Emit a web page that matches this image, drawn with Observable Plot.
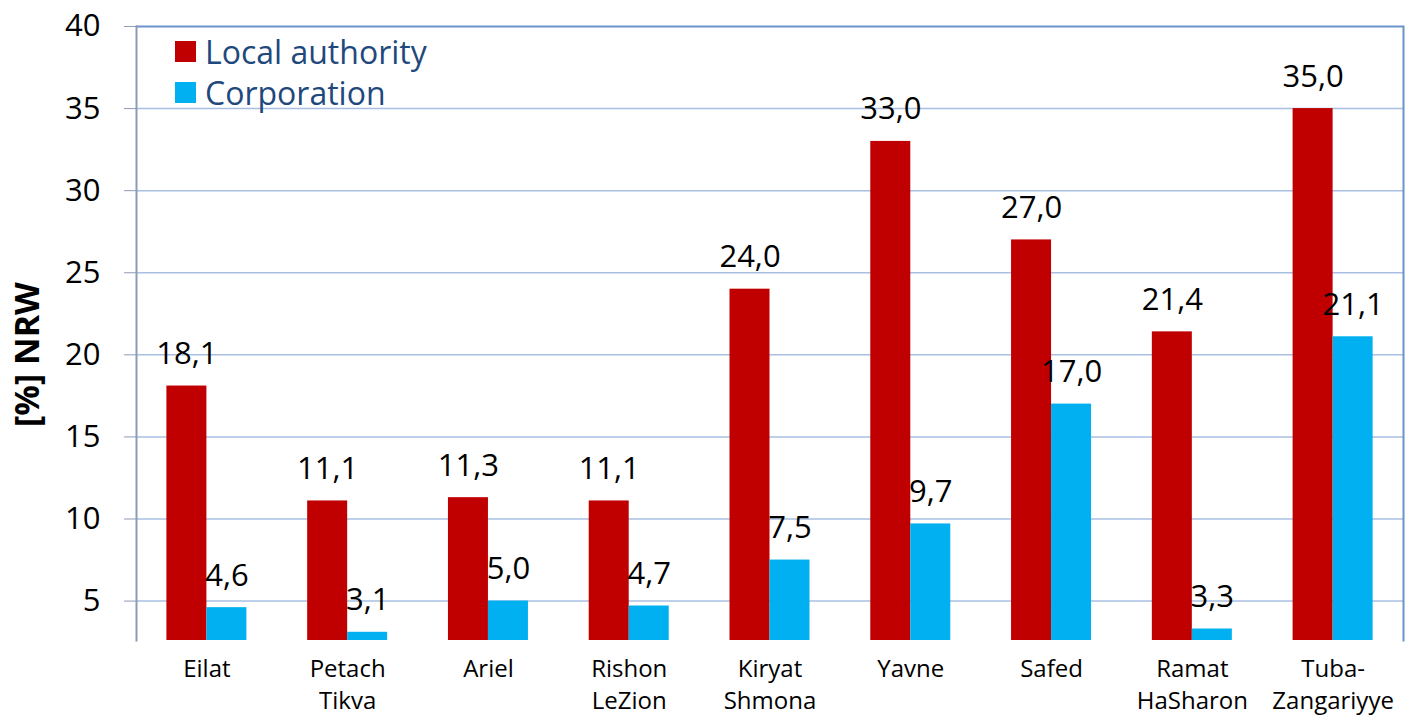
<!DOCTYPE html>
<html>
<head>
<meta charset="utf-8">
<script src="https://cdn.jsdelivr.net/npm/d3@7"></script>
<script src="https://cdn.jsdelivr.net/npm/@observablehq/plot@0.6"></script>
<style>
  html, body { margin: 0; padding: 0; background: #fff; }
  #wrap { position: relative; width: 1424px; height: 715px; font-family: "Open Sans", sans-serif; }
  #legend { position: absolute; left: 175px; top: 31px; color: #1F497D; font-size: 32px; line-height: 41px; }
  #legend .row { display: flex; align-items: center; white-space: nowrap; }
  #legend .sw { width: 21px; height: 21px; margin-right: 9px; }
</style>
</head>
<body>
<div id="wrap">
  <div id="chart"></div>
  <div id="legend"></div>
</div>
<script>
const cities = ["Eilat", "Petach Tikva", "Ariel", "Rishon LeZion", "Kiryat Shmona", "Yavne", "Safed", "Ramat HaSharon", "Tuba-Zangariyye"];
const cityLabels = ["Eilat", "Petach\nTikva", "Ariel", "Rishon\nLeZion", "Kiryat\nShmona", "Yavne", "Safed", "Ramat\nHaSharon", "Tuba-\nZangariyye"];
const seriesNames = ["Local authority", "Corporation"];
const localAuthority = [18.1, 11.1, 11.3, 11.1, 24.0, 33.0, 27.0, 21.4, 35.0];
const corporation = [4.6, 3.1, 5.0, 4.7, 7.5, 9.7, 17.0, 3.3, 21.1];
const yTicks = [5, 10, 15, 20, 25, 30, 35, 40];
const yMin = 2.6;
const yMax = 40;
const colors = ["#C00000", "#00B0F0"];

const local = cities.map((c, i) => ({city: c, series: seriesNames[0], value: localAuthority[i]}));
const corp = cities.map((c, i) => ({city: c, series: seriesNames[1], value: corporation[i]}));
const fmt = v => v.toFixed(1).replace(".", ",");

const W = 1424, H = 715, ML = 136, MR = 21, MT = 26, MB = 75;
const bw = (W - ML - MR) / cities.length;
const barW = 40;
const side = (bw - 2 * barW) / 2;

const chart = Plot.plot({
  width: W,
  height: H,
  marginLeft: ML,
  marginRight: MR,
  marginTop: MT,
  marginBottom: MB,
  style: {fontFamily: "Open Sans, sans-serif", color: "#000", background: "#fff", overflow: "visible"},
  x: {domain: cities, padding: 0, round: false, label: null},
  y: {domain: [yMin, yMax], label: null},
  marks: [
    Plot.ruleY(yTicks.filter(t => t < yMax), {stroke: "#A8BFE3", strokeWidth: 1.5}),
    Plot.ruleY([yMax], {stroke: "#6A93CA", strokeWidth: 2}),
    Plot.frame({anchor: "right", stroke: "#6A93CA", strokeWidth: 2}),
    Plot.frame({anchor: "left", stroke: "#8C9BB5", strokeWidth: 2}),
    Plot.barY(local, {x: "city", y1: yMin, y2: "value", fill: colors[0], insetLeft: side, insetRight: side + barW}),
    Plot.barY(corp, {x: "city", y1: yMin, y2: "value", fill: colors[1], insetLeft: side + barW, insetRight: side}),
    Plot.text(local, {x: "city", y: "value", text: d => fmt(d.value), dx: -barW / 2, dy: -22, lineAnchor: "bottom", fontSize: 31, fill: "#000"}),
    Plot.text(corp, {x: "city", y: "value", text: d => fmt(d.value), dx: barW / 2, dy: -22, lineAnchor: "bottom", fontSize: 31, fill: "#000"}),
    Plot.axisY({ticks: yTicks, tickSize: 12, tickPadding: 24, fontSize: 31, stroke: "#8C9BB5", fill: "#000", label: null}),
    Plot.axisX({tickSize: 0, tickPadding: 13, fontSize: 24, lineHeight: 1.36, fill: "#000", tickFormat: d => cityLabels[cities.indexOf(d)], label: null}),
    Plot.text(["[%] NRW"], {frameAnchor: "left", textAnchor: "middle", rotate: -90, dx: -108, dy: 21, fontSize: 34, fontWeight: "bold", fill: "#000"})
  ]
});
document.getElementById("chart").appendChild(chart);

const legend = document.getElementById("legend");
seriesNames.forEach((name, i) => {
  const row = document.createElement("div");
  row.className = "row";
  const sw = document.createElement("div");
  sw.className = "sw";
  sw.style.background = colors[i];
  const t = document.createElement("span");
  t.textContent = name;
  row.appendChild(sw);
  row.appendChild(t);
  legend.appendChild(row);
});
</script>
</body>
</html>
